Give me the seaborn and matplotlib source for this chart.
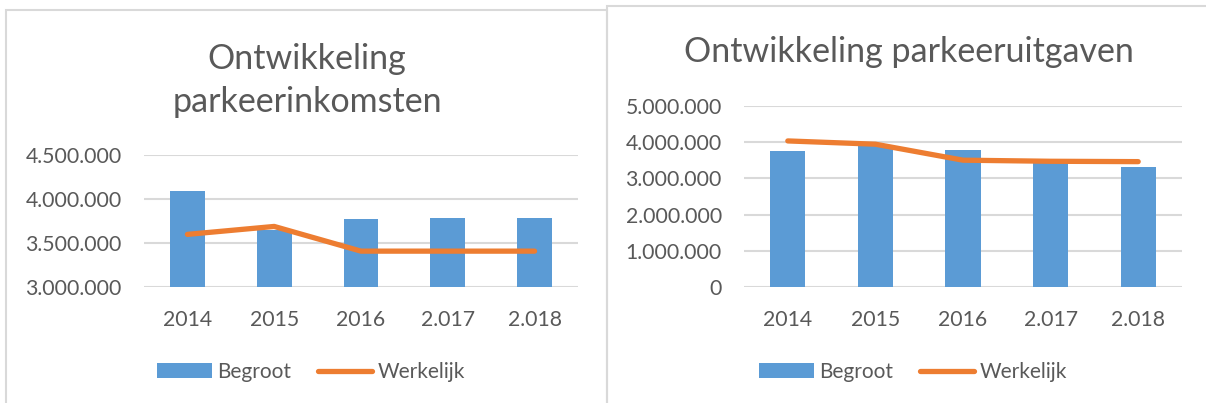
import matplotlib.pyplot as plt
import seaborn as sns
import numpy as np
from matplotlib.patches import Rectangle, Patch
from matplotlib.lines import Line2D
from matplotlib.ticker import FuncFormatter, MultipleLocator

years = ["2014", "2015", "2016", "2.017", "2.018"]
inkomsten_begroot = [4090000, 3650000, 3770000, 3785000, 3785000]
inkomsten_werkelijk = [3600000, 3690000, 3410000, 3410000, 3410000]
uitgaven_begroot = [3750000, 3900000, 3770000, 3450000, 3320000]
uitgaven_werkelijk = [4030000, 3940000, 3500000, 3470000, 3460000]

BLUE = "#5B9BD5"
ORANGE = "#ED7D31"
TEXT = "#595959"
GRID = "#D9D9D9"

sns.set_style("white")
plt.rcParams['font.family'] = ['Lato', 'DejaVu Sans']

W, H = 1206, 403
fig = plt.figure(figsize=(W / 100, H / 100), dpi=100)


def box(x0, y0, x1, y1):
    # pixel box (top-left origin) -> figure fraction rect
    return [x0 / W, 1 - y1 / H, (x1 - x0) / W, (y1 - y0) / H]


def dutch(v, pos):
    return f"{int(round(v)):,}".replace(",", ".")


# chart borders
fig.add_artist(Rectangle((6 / W, -0.1), (607 - 6) / W, 1.1 - 10 / H, transform=fig.transFigure,
                         facecolor='none', edgecolor=GRID, linewidth=1.5))
fig.add_artist(Rectangle((607 / W, -0.1), 0.6, 1.1 - 6 / H, transform=fig.transFigure,
                         facecolor='none', edgecolor=GRID, linewidth=1.5))


def draw_panel(rect, begroot, werkelijk, ylim, step):
    ax = fig.add_axes(rect)
    sns.barplot(x=years, y=begroot, color=BLUE, width=0.4, saturation=1, linewidth=0, ax=ax, zorder=2)
    sns.lineplot(x=np.arange(len(years)), y=werkelijk, color=ORANGE, linewidth=3.8,
                 solid_capstyle='round', ax=ax, zorder=3)
    ax.set_ylim(*ylim)
    ax.set_xlim(-0.5, len(years) - 0.5)
    ax.yaxis.set_major_locator(MultipleLocator(step))
    ax.yaxis.set_major_formatter(FuncFormatter(dutch))
    ax.grid(axis='y', color=GRID, linewidth=1.5)
    ax.set_axisbelow(True)
    sns.despine(ax=ax, left=True, bottom=True)
    ax.tick_params(axis='both', length=0, labelsize=15.3, labelcolor=TEXT)
    ax.tick_params(axis='y', pad=16)
    ax.tick_params(axis='x', pad=16)
    ax.set_xlabel('')
    ax.set_ylabel('')
    ax.patch.set_alpha(0)
    return ax


draw_panel(box(144, 155, 578, 287.3), inkomsten_begroot, inkomsten_werkelijk, (3000000, 4500000), 500000)
draw_panel(box(744, 105.7, 1182, 287.3), uitgaven_begroot, uitgaven_werkelijk, (0, 5000000), 1000000)

fig.text(307 / W, 1 - 111.7 / H, "Ontwikkeling\nparkeerinkomsten", ha='center', va='baseline',
         fontsize=24.5, color=TEXT, linespacing=1.42)
fig.text(909 / W, 1 - 61.7 / H, "Ontwikkeling parkeeruitgaven", ha='center', va='baseline',
         fontsize=24.5, color=TEXT)

handles = [Patch(facecolor=BLUE, edgecolor='none'),
           Line2D([], [], color=ORANGE, linewidth=3.8, solid_capstyle='round')]
for cx in (311, 913):
    fig.legend(handles, ["Begroot", "Werkelijk"], loc='center', bbox_to_anchor=(cx / W, 1 - 372 / H),
               ncol=2, frameon=False, fontsize=15, handlelength=2.6, handletextpad=0.25,
               columnspacing=1.3, labelcolor=TEXT)

fig.savefig("out.png", dpi=100)
